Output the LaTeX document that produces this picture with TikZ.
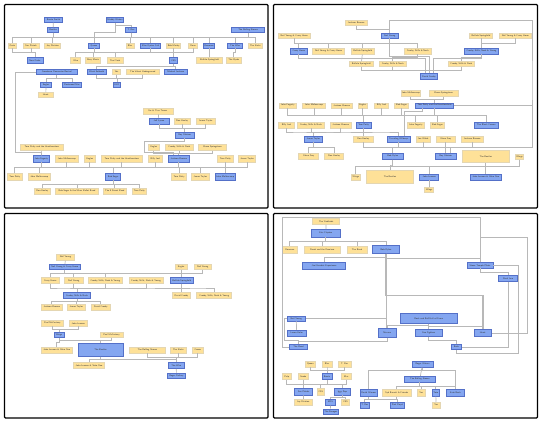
\documentclass[tikz,border=0pt]{standalone}
\usetikzlibrary{calc}
\definecolor{nodeblue}{RGB}{132,166,240}
\definecolor{blueline}{RGB}{84,112,200}
\definecolor{nodeyel}{RGB}{254,225,152}
\definecolor{yelline}{RGB}{228,214,178}
\definecolor{wire}{RGB}{184,184,184}
\tikzset{
  box/.style={inner sep=0, inner xsep=.8, minimum height=5, line width=.5pt,
    font=\fontsize{2.3}{2.6}\selectfont\sffamily, text=black!80},
  blu/.style={box, fill=nodeblue, draw=blueline, minimum width=#1},
  yel/.style={box, fill=nodeyel, draw=yelline, minimum width=#1},
  edge/.style={draw=wire, line width=.7pt},
  elbow/.style={to path={|- ($(\tikztostart)!.5!(\tikztotarget)$) -| (\tikztotarget)}},
  panel/.style={draw=black, line width=1.2pt, rounded corners=1}
}
\begin{document}
\begin{tikzpicture}[x=1pt, y=-1pt]
\fill[white] (0,0) rectangle (542,422);
\useasboundingbox (0,0) rectangle (542,422);
\draw[panel] (4.5,4.5) rectangle (268,208);
\draw[panel] (273.5,4.5) rectangle (537.5,208);
\draw[panel] (4.5,213.5) rectangle (268,418);
\draw[panel] (273.5,213.5) rectangle (537.5,418);

% first panel
\node[blu=17.6] (p1a) at (53.5,19.8){Bessie Smith};
\node[blu=11.4] (p1b) at (53,30){Beatles};
\node[blu=15] (p1c) at (115,19.8){Muddy Waters};
\node[blu=11] (p1d) at (131,30){T. Rex};
\node[blu=33] (p1e) at (248,30){The Rolling Stones};
\node[yel=8.7] (p1f) at (12.3,45.6){Oasis};
\node[yel=16] (p1g) at (31,45.6){Sex Pistols};
\node[yel=16] (p1h) at (52.7,45.6){Joy Division};
\node[blu=11.4] (p1i) at (94,45.6){Queen};
\node[yel=8.3] (p1j) at (130,45.6){Blur};
\node[blu=20] (p1k) at (150.7,45.6){Blue Oyster Cult};
\node[yel=14] (p1l) at (173.7,45.6){Bob Marley};
\node[yel=9] (p1m) at (193,45.6){Devo};
\node[blu=11.4] (p1n) at (209,45.6){Ramones};
\node[blu=15.4] (p1o) at (235,45.6){The Who};
\node[yel=14] (p1p) at (255.3,45.6){The Kinks};
\node[blu=15.7, minimum height=6] (p1q) at (35,60.3){New Order};
\node[yel=10, minimum height=6] (p1r) at (75.7,60.3){Wire};
\node[yel=15, minimum height=6] (p1s) at (93,60.3){Roxy Music};
\node[yel=16.3, minimum height=6] (p1t) at (115,60.3){The Clash};
\node[blu=7.6, minimum height=6] (p1u) at (173.5,60.3){CSS};
\node[yel=25.6, minimum height=6] (p1v) at (209.5,60.3){Buffalo Springfield};
\node[yel=15, minimum height=6] (p1w) at (233.8,60.3){The Byrds};
\node[blu=41] (p1x) at (56.8,72){Creedence Clearwater Revival};
\node[blu=19] (p1y) at (96.8,72){Black Sabbath};
\node[yel=8.4] (p1z) at (116.5,72){Yes};
\node[yel=32.7] (p1aa) at (142.7,72){The Velvet Underground};
\node[blu=23.3] (p1ab) at (175.7,72){Michael Jackson};
\node[blu=11] (p1ac) at (46,84.8){Eagles};
\node[blu=19.4] (p1ad) at (72,84.8){Fleetwood Mac};
\node[blu=7.4] (p1ae) at (117,84.8){ELO};
\node[yel=15] (p1af) at (45.8,95){Heart};
\node[yel=30.3, minimum height=6] (p1ag) at (158,111){Ike \& Tina Turner};
\node[blu=20, minimum height=6] (p1ah) at (159,121.2){Jeff Lynne};
\node[yel=16, minimum height=6] (p1ai) at (182,121.2){Don Henley};
\node[yel=18.7, minimum height=6] (p1aj) at (205.7,121.2){James Taylor};
\node[blu=19.3, minimum height=6] (p1ak) at (184.7,135){Roy Orbison};
\node[yel=42.3, minimum height=6.5] (p1al) at (41.8,147.3){Tom Petty and the Heartbreakers};
\node[yel=11.7, minimum height=6.5] (p1am) at (153.8,147.3){Eagles};
\node[yel=28, minimum height=6.5] (p1an) at (179.3,147.3){Crosby, Stills \& Nash};
\node[yel=28.4, minimum height=6.5] (p1ao) at (212.5,147.3){Bruce Springsteen};
\node[blu=16.7, minimum height=6.5] (p1ap) at (41.3,159){John Fogerty};
\node[yel=22.3, minimum height=6.5] (p1aq) at (66.8,159){John Mellencamp};
\node[yel=10.3, minimum height=6.5] (p1ar) at (89.8,159){Eagles};
\node[yel=41, minimum height=6.5] (p1as) at (121.8,159){Tom Petty and the Heartbreakers};
\node[yel=14, minimum height=6.5] (p1at) at (155.3,159){Billy Joel};
\node[blu=21, minimum height=6.5] (p1au) at (178.8,159){Jackson Browne};
\node[yel=16, minimum height=6.5] (p1av) at (225.3,159){Tom Petty};
\node[yel=17.4, minimum height=6.5] (p1aw) at (247,159){James Taylor};
\node[yel=15, minimum height=6.5] (p1ax) at (14.8,176.7){Tom Petty};
\node[yel=22.7, minimum height=6.5] (p1ay) at (39.3,176.7){John Mellencamp};
\node[blu=15, minimum height=6.5] (p1az) at (113.2,176.7){Bob Seger};
\node[yel=15.4, minimum height=6.5] (p1ba) at (179,176.7){Tom Petty};
\node[yel=17.3, minimum height=6.5] (p1bb) at (200.3,176.7){James Taylor};
\node[blu=19, minimum height=6.5] (p1bc) at (225.2,176.7){John Mellencamp};
\node[yel=16.7, minimum height=5.7] (p1bd) at (42.3,191.2){Don Henley};
\node[yel=42.6, minimum height=5.7] (p1be) at (77,191.2){Bob Seger \& the Silver Bullet Band};
\node[yel=23, minimum height=5.7] (p1bf) at (114.8,191.2){The E Street Band};
\node[yel=14, minimum height=5.7] (p1bg) at (139.3,191.2){Tom Petty};
\draw[edge] (p1a) -- (p1b);
\draw[edge] (p1b.south) to[elbow] (p1f.north);
\draw[edge] (p1b.south) to[elbow] (p1g.north);
\draw[edge] (p1b.south) to[elbow] (p1h.north);
\draw[edge] (p1b.south) to[elbow] (p1i.north);
\draw[edge] (p1c.south) to[elbow] (p1d.north);
\draw[edge] (p1c.south) to[elbow] (p1i.north);
\draw[edge] (p1d.south) to[elbow] (p1i.north);
\draw[edge] (p1d.south) to[elbow] (p1j.north);
\draw[edge] (p1d.south) to[elbow] (p1k.north);
\draw[edge] (p1d.south) to[elbow] (p1l.north);
\draw[edge] (p1d.south) to[elbow] (p1m.north);
\draw[edge] (p1d.south) to[elbow] (p1n.north);
\draw[edge] (p1d.south) to[elbow] (p1o.north);
\draw[edge] (p1e.south) to[elbow] (p1o.north);
\draw[edge] (p1e.south) to[elbow] (p1p.north);
\draw[edge] (p1f.south) to[elbow] (p1q.north);
\draw[edge] (p1g.south) to[elbow] (p1q.north);
\draw[edge] (p1i.south) to[elbow] (p1r.north);
\draw[edge] (p1i.south) to[elbow] (p1s.north);
\draw[edge] (p1i.south) to[elbow] (p1t.north);
\draw[edge] (p1i.south) to[elbow] (p1u.north);
\draw[edge] (p1k.south) to[elbow] (p1u.north);
\draw[edge] (p1l.south) to[elbow] (p1u.north);
\draw[edge] (p1m.south) to[elbow] (p1u.north);
\draw[edge] (p1n.south) to[elbow] (p1v.north);
\draw[edge] (p1o.south) to[elbow] (p1w.north);
\draw[edge] (p1u.south) to[elbow] (p1y.north);
\draw[edge] (p1u.south) to[elbow] (p1ab.north);
\draw[edge] (p1x.south) to[elbow] (p1ac.north);
\draw[edge] (p1x.south) to[elbow] (p1ad.north);
\draw[edge] (p1y.south) to[elbow] (p1ae.north);
\draw[edge] (p1z.south) to[elbow] (p1ae.north);
\draw[edge] (p1aa.south) to[elbow] (p1ae.north);
\draw[edge] (p1ac) -- (p1af);
\draw[edge] (p1x.west) -| (15,152) -| (p1ap.north);
\draw[edge] (p1ag) -- (p1ah);
\draw[edge] (p1ah.south) to[elbow] (p1ak.north);
\draw[edge] (p1ai.south) to[elbow] (p1ak.north);
\draw[edge] (p1aj.south) to[elbow] (p1ak.north);
\draw[edge] (p1ak.south) -- ++(0,3) -| (144,152.5) -| ([xshift=-5]p1au.north);
\draw[edge] (p1al) -- (p1ap);
\draw[edge] (p1am.south) to[elbow] (p1au.north);
\draw[edge] (p1an.south) to[elbow] (p1au.north);
\draw[edge] (p1ao.south) to[elbow] (p1au.north);
\draw[edge] (p1ap.south) to[elbow] (p1ax.north);
\draw[edge] (p1ap.south) to[elbow] (p1ay.north);
\draw[edge] (p1ap.south) to[elbow] (p1az.north);
\draw[edge] (p1aq.south) to[elbow] (p1az.north);
\draw[edge] (p1ar.south) to[elbow] (p1az.north);
\draw[edge] (p1as.south) to[elbow] (p1az.north);
\draw[edge] (p1at.south) to[elbow] (p1az.north);
\draw[edge] (p1au.south) to[elbow] (p1az.north);
\draw[edge] (p1au.south) to[elbow] (p1ba.north);
\draw[edge] (p1au.south) to[elbow] (p1bb.north);
\draw[edge] (p1au.south) to[elbow] (p1bc.north);
\draw[edge] (p1av.south) to[elbow] (p1bc.north);
\draw[edge] (p1aw.south) to[elbow] (p1bc.north);
\draw[edge] (p1az.south) to[elbow] (p1bd.north);
\draw[edge] (p1az.south) to[elbow] (p1be.north);
\draw[edge] (p1az.south) to[elbow] (p1bf.north);
\draw[edge] (p1az.south) to[elbow] (p1bg.north);

% second panel
\node[yel=21.7, minimum height=5.7] (p2a) at (356.2,22.8){Jackson Browne};
\node[yel=32.3] (p2b) at (294.2,35.7){Neil Young \& Crazy Horse};
\node[blu=16.7] (p2c) at (389.7,35.7){Neil Young};
\node[yel=23.4] (p2d) at (481,35.7){Buffalo Springfield};
\node[yel=32] (p2e) at (515.3,35.7){Neil Young \& Crazy Horse};
\node[blu=16.7, minimum height=5.7] (p2f) at (298.7,51.2){Crazy Horse};
\node[yel=31.6, minimum height=5.7] (p2g) at (328.5,51.2){Neil Young \& Crazy Horse};
\node[yel=23.3, minimum height=5.7] (p2h) at (362.7,51.2){Buffalo Springfield};
\node[yel=26.7, minimum height=5.7] (p2i) at (417.7,51.2){Crosby, Stills \& Nash};
\node[blu=34.4, minimum height=5.7] (p2j) at (481.5,51.2){Crosby, Stills, Nash \& Young};
\node[yel=23.7] (p2k) at (361.2,64){Buffalo Springfield};
\node[yel=26.7] (p2l) at (392.7,64){Crosby, Stills \& Nash};
\node[yel=26.7] (p2m) at (461.3,64){Crosby, Stills \& Nash};
\node[blu=17.4, minimum height=6] (p2n) at (429,76.7){David Crosby};
\node[yel=19, minimum height=6] (p2o) at (410.8,93.3){John Mellencamp};
\node[yel=28.7, minimum height=6] (p2p) at (443.7,93.3){Bruce Springsteen};
\node[yel=16.7] (p2q) at (287.7,105.3){John Fogerty};
\node[yel=22.6] (p2r) at (314,105.3){John Mellencamp};
\node[yel=20.7] (p2s) at (341.7,105.3){Jackson Browne};
\node[yel=9] (p2t) at (362.5,105.3){Eagles};
\node[yel=14.4] (p2u) at (381.5,105.3){Billy Joel};
\node[yel=14.4] (p2v) at (401.5,105.3){Bob Seger};
\node[blu=38.4] (p2w) at (434.5,105.3){Tom Petty and the Heartbreakers};
\node[yel=15.6, minimum height=6] (p2x) at (286.5,125){Billy Joel};
\node[yel=26.6, minimum height=6] (p2y) at (311,125){Crosby, Stills \& Nash};
\node[yel=20.7, minimum height=6] (p2z) at (340.7,125){Jackson Browne};
\node[blu=14.7, minimum height=6] (p2aa) at (363.7,125){Tom Petty};
\node[yel=17.7, minimum height=6] (p2ab) at (415.8,125){John Fogerty};
\node[yel=14.4, minimum height=6] (p2ac) at (437.5,125){Bob Seger};
\node[blu=23.7, minimum height=6] (p2ad) at (486.2,125){The Black Crowes};
\node[blu=17.7, minimum height=6] (p2ae) at (313.2,139){James Taylor};
\node[yel=20.7, minimum height=6] (p2af) at (363.3,139){Don Henley};
\node[blu=23.3, minimum height=6] (p2ag) at (398.7,139){Traveling Wilburys};
\node[yel=14.3, minimum height=6] (p2ah) at (423.2,139){Joe Walsh};
\node[yel=19, minimum height=6] (p2ai) at (445.8,139){Glenn Frey};
\node[yel=22.7, minimum height=6] (p2aj) at (472.3,139){Jackson Browne};
\node[yel=20, minimum height=6] (p2ak) at (308.7,156.3){Glenn Frey};
\node[yel=19.4, minimum height=6] (p2al) at (334,156.3){Don Henley};
\node[blu=21.7, minimum height=6] (p2am) at (392.8,156.3){Bob Dylan};
\node[blu=20.7, minimum height=6] (p2an) at (445.7,156.3){Roy Orbison};
\node[yel=47.3, minimum height=12] (p2ao) at (485.7,156.7){The Beatles};
\node[yel=8.4, minimum height=5.5] (p2ap) at (519.5,156.7){Wings};
\node[yel=9, minimum height=6] (p2aq) at (355.8,177){Wings};
\node[yel=47.4, minimum height=12.6] (p2ar) at (390,177){The Beatles};
\node[blu=19, minimum height=6] (p2as) at (429.2,177){John Lennon};
\node[blu=31, minimum height=6] (p2at) at (485.8,177){John Lennon \& Yoko Ono};
\node[yel=9, minimum height=5.4] (p2au) at (429.2,190){Wings};
\draw[edge] (p2a.south) to[elbow] (p2c.north);
\draw[edge] (p2b.south) to[elbow] (p2f.north);
\draw[edge] (p2c.south) to[elbow] (p2f.north);
\draw[edge] (p2c.south) to[elbow] (p2g.north);
\draw[edge] (p2c.south) to[elbow] (p2h.north);
\draw[edge] (p2c.south) to[elbow] (p2i.north);
\draw[edge] (p2c.south) to[elbow] (p2n.north);
\draw[edge] (p2c.north) |- (532,20) -- (532,100) |- (p2w.east);
\draw[edge] (532,100) -- (532,147) -| ([xshift=5]p2an.north);
\draw[edge] (p2d.south) to[elbow] (p2j.north);
\draw[edge] (p2e.south) to[elbow] (p2j.north);
\draw[edge] (p2h) -- (p2k);
\draw[edge] (p2i.south) to[elbow] (p2l.north);
\draw[edge] (p2j.south) to[elbow] (p2m.north);
\draw[edge] (p2f.south) -- ++(0,4) -| ([xshift=-4]p2n.north);
\draw[edge] (p2j.south) -- ++(0,4) -| ([xshift=4]p2n.north);
\draw[edge] (p2k.south) to[elbow] (p2n.north);
\draw[edge] (p2l.south) to[elbow] (p2n.north);
\draw[edge] (p2m.south) to[elbow] (p2n.north);
\draw[edge] (p2o.south) to[elbow] (p2w.north);
\draw[edge] (p2p.south) to[elbow] (p2w.north);
\draw[edge] (p2q.south) to[elbow] (p2aa.north);
\draw[edge] (p2r.south) to[elbow] (p2aa.north);
\draw[edge] (p2s.south) to[elbow] (p2aa.north);
\draw[edge] (p2t.south) to[elbow] (p2aa.north);
\draw[edge] (p2u.south) to[elbow] (p2aa.north);
\draw[edge] (p2v.south) to[elbow] (p2aa.north);
\draw[edge] (p2w.south) to[elbow] (p2aa.north);
\draw[edge] (p2w.south) to[elbow] (p2ab.north);
\draw[edge] (p2w.south) to[elbow] (p2ac.north);
\draw[edge] (p2w.south) to[elbow] (p2ad.north);
\draw[edge] ([xshift=-12]p2w.south) -- ++(0,3) -| ([xshift=6]p2ag.north);
\draw[edge] (p2x.south) to[elbow] (p2ae.north);
\draw[edge] (p2y.south) to[elbow] (p2ae.north);
\draw[edge] (p2z.south) to[elbow] (p2ae.north);
\draw[edge] (p2aa.south) to[elbow] (p2ae.north);
\draw[edge] (p2aa.south) to[elbow] (p2af.north);
\draw[edge] (p2aa.south) to[elbow] (p2ag.north);
\draw[edge] (p2ae.south) to[elbow] (p2ak.north);
\draw[edge] (p2ae.south) to[elbow] (p2al.north);
\draw[edge] (p2ag.south) to[elbow] (p2an.north);
\draw[edge] (p2ah.south) to[elbow] (p2an.north);
\draw[edge] (p2ai.south) to[elbow] (p2an.north);
\draw[edge] (p2aj.south) to[elbow] (p2an.north);
\draw[edge] (p2ag.south) to[elbow] (p2am.north);
\draw[edge] (p2af.south) to[elbow] (p2am.north);
\draw[edge] (p2am.south) to[elbow] (p2aq.north);
\draw[edge] (p2am.south) to[elbow] (p2ar.north);
\draw[edge] (p2am.south) to[elbow] (p2as.north);
\draw[edge] (p2am.south) to[elbow] (p2at.north);
\draw[edge] (p2ao.south) to[elbow] (p2at.north);
\draw[edge] (p2ap.south) to[elbow] (p2at.north);
\draw[edge] (p2as) -- (p2au);

% third panel
\node[yel=18.4, minimum height=6] (p3a) at (65.5,257.3){Neil Young};
\node[blu=31.7] (p3b) at (64.8,267){Neil Young \& Crazy Horse};
\node[yel=12.3] (p3c) at (181.2,267){Eagles};
\node[yel=17.7] (p3d) at (202.8,267){Neil Young};
\node[yel=17.7, minimum height=5.6] (p3e) at (50.2,280.5){Crazy Horse};
\node[yel=18.3, minimum height=5.6] (p3f) at (73.8,280.5){Neil Young};
\node[yel=34, minimum height=5.6] (p3g) at (105.3,280.5){Crosby, Stills, Nash \& Young};
\node[yel=34, minimum height=5.6] (p3h) at (146,280.5){Crosby, Stills, Nash \& Young};
\node[blu=23.3, minimum height=5.6] (p3i) at (181.7,280.5){Buffalo Springfield};
\node[blu=27.4, minimum height=5.6] (p3j) at (77,295.5){Crosby, Stills \& Nash};
\node[yel=18.4, minimum height=5.6] (p3k) at (181.5,295.5){David Crosby};
\node[yel=35, minimum height=5.6] (p3l) at (214.2,295.5){Crosby, Stills, Nash \& Young};
\node[yel=21, minimum height=5.7] (p3m) at (51.8,307.2){Jackson Browne};
\node[yel=17.7, minimum height=5.7] (p3n) at (76.2,307.2){James Taylor};
\node[yel=18.7, minimum height=5.7] (p3o) at (100.7,307.2){David Crosby};
\node[yel=22, minimum height=5.3] (p3p) at (52.3,323.3){Paul McCartney};
\node[yel=18.3, minimum height=5.3] (p3q) at (78.2,323.3){John Lennon};
\node[blu=10, minimum height=5.4] (p3r) at (59,335){Wings};
\node[yel=23, minimum height=5.4] (p3s) at (111.5,335){Paul McCartney};
\node[yel=31, minimum height=6] (p3t) at (56.8,350.2){John Lennon \& Yoko Ono};
\node[blu=45, minimum height=13] (p3u) at (100.5,349.8){The Beatles};
\node[yel=36.7, minimum height=6] (p3v) at (147.3,350.2){The Rolling Stones};
\node[yel=16.7, minimum height=6] (p3w) at (178.3,350.2){The Kinks};
\node[yel=11, minimum height=6] (p3x) at (197.8,350.2){Cream};
\node[yel=31.4, minimum height=6.3] (p3y) at (89,365.5){John Lennon \& Yoko Ono};
\node[blu=15.7, minimum height=6.3] (p3z) at (176.2,365.5){The Who};
\node[blu=18.4, minimum height=5.7] (p3aa) at (176.5,375.8){Roger Daltrey};
\draw[edge] (p3a) -- (p3b);
\draw[edge] (p3b.south) to[elbow] (p3e.north);
\draw[edge] (p3b.south) to[elbow] (p3f.north);
\draw[edge] (p3b.south) to[elbow] (p3g.north);
\draw[edge] (p3b.south) to[elbow] (p3i.north);
\draw[edge] (p3c.south) to[elbow] (p3i.north);
\draw[edge] (p3d.south) to[elbow] (p3i.north);
\draw[edge] (p3e.south) to[elbow] (p3j.north);
\draw[edge] (p3f.south) to[elbow] (p3j.north);
\draw[edge] (p3g.south) to[elbow] (p3j.north);
\draw[edge] (p3h.south) to[elbow] (p3j.north);
\draw[edge] (p3i.south) to[elbow] (p3j.north);
\draw[edge] (p3i.south) to[elbow] (p3k.north);
\draw[edge] (p3i.south) to[elbow] (p3l.north);
\draw[edge] (p3j.south) to[elbow] (p3m.north);
\draw[edge] (p3j.south) to[elbow] (p3n.north);
\draw[edge] (p3j.south) to[elbow] (p3o.north);
\draw[edge] (p3p.south) to[elbow] (p3r.north);
\draw[edge] (p3q.south) to[elbow] (p3r.north);
\draw[edge] (p3r.south) to[elbow] (p3t.north);
\draw[edge] (p3r.south) to[elbow] (p3u.north);
\draw[edge] (p3s.south) to[elbow] (p3u.north);
\draw[edge] (p3u.south) to[elbow] (p3y.north);
\draw[edge] (p3u.south) to[elbow] (p3z.north);
\draw[edge] (p3v.south) to[elbow] (p3z.north);
\draw[edge] (p3w.south) to[elbow] (p3z.north);
\draw[edge] (p3x.south) to[elbow] (p3z.north);
\draw[edge] (p3z) -- (p3aa);

% fourth panel
\node[yel=27, minimum height=6.7] (p4a) at (326.2,221.3){The Yardbirds};
\node[blu=29, minimum height=7.7] (p4b) at (325.8,233.2){Eric Clapton};
\node[yel=15.7, minimum height=7] (p4c) at (289.8,249.5){Donovan};
\node[yel=36, minimum height=7] (p4d) at (322.3,249.5){Derek and the Dominos};
\node[yel=20, minimum height=7] (p4e) at (357,249.5){The Band};
\node[blu=26.6, minimum height=8] (p4f) at (386,249.5){Bob Dylan};
\node[blu=42.6, minimum height=7.3] (p4g) at (324,265.7){Jimi Hendrix Experience};
\node[blu=26, minimum height=5.5] (p4h) at (480,265.5){Stone Temple Pilots};
\node[blu=19, minimum height=6] (p4i) at (508.2,278.5){Pearl Jam};
\node[blu=18.3] (p4j) at (296.2,318.5){Neil Young};
\node[blu=56.7, minimum height=10] (p4k) at (428.7,318.3){Rock and Roll Hall of Fame};
\node[blu=19.3, minimum height=6] (p4l) at (296.7,333){Levon Helm};
\node[blu=18.3, minimum height=9] (p4m) at (387.2,332.8){Nirvana};
\node[blu=26.7, minimum height=7.4] (p4n) at (428.7,333){Foo Fighters};
\node[blu=17, minimum height=7.4] (p4o) at (482.8,333){Heart};
\node[blu=18.4] (p4p) at (298.5,347){The Band};
\node[blu=10] (p4q) at (456.3,347){Bush};
\node[yel=10, minimum height=5.7] (p4r) at (310.3,364.2){Queen};
\node[yel=10, minimum height=5.7] (p4s) at (327,364.2){Blur};
\node[yel=13, minimum height=5.7] (p4t) at (344.5,364.2){T. Rex};
\node[yel=8.3, minimum height=6] (p4u) at (286.8,376.7){Pulp};
\node[yel=10.7, minimum height=6] (p4v) at (303.3,376.7){Suede};
\node[blu=10, minimum height=6] (p4w) at (327,376.7){Bowie};
\node[yel=9.7, minimum height=6] (p4x) at (346.2,376.7){Blur};
\node[blu=18, minimum height=7] (p4y) at (303.7,391.7){Sex Pistols};
\node[yel=7.7, minimum height=7] (p4z) at (320.8,391.7){CSS};
\node[blu=16, minimum height=7] (p4aa) at (342.3,391.7){Iggy Pop};
\node[yel=17.3, minimum height=6.3] (p4ab) at (303.3,402.2){Joy Division};
\node[blu=10, minimum height=6.3] (p4ac) at (330.3,402.2){MC5};
\node[yel=8.4, minimum height=6.3] (p4ad) at (345.5,402.2){CSS};
\node[blu=14.3, minimum height=5.7] (p4ae) at (330.8,411.8){The Stooges};
\node[blu=21, minimum height=6] (p4af) at (422.5,364.3){Roger Waters};
\node[blu=31, minimum height=5.7] (p4ag) at (419.8,379.2){The Rolling Stones};
\node[blu=16.7, minimum height=6.6] (p4ah) at (368.7,393){David Gilmour};
\node[yel=29.3, minimum height=6.6] (p4ai) at (396.7,393){Syd Barrett \& Friends};
\node[yel=8.3, minimum height=6.6] (p4aj) at (421.2,393){Yes};
\node[blu=7.3, minimum height=6.6] (p4ak) at (435.7,393){Toto};
\node[blu=18.7, minimum height=6.6] (p4al) at (455.3,393){Kate Bush};
\node[blu=9, minimum height=6] (p4am) at (364.8,405){T. Rex};
\node[blu=14, minimum height=6] (p4an) at (397.3,405){Pink Floyd};
\node[yel=8.3, minimum height=6] (p4ao) at (436.2,405){Yes};
\draw[edge] (p4a) -- (p4b);
\draw[edge] (p4b.south) to[elbow] (p4c.north);
\draw[edge] (p4b.south) to[elbow] (p4d.north);
\draw[edge] (p4b.south) to[elbow] (p4e.north);
\draw[edge] (p4b.south) to[elbow] (p4f.north);
\draw[edge] (p4f.south) to[elbow] (p4g.north);
\draw[edge] (p4f.south) to[elbow] (p4h.north);
\draw[edge, line width=1.4pt] (p4f.south) -- ++(0,42) -| (p4o.north);
\draw[edge] (p4f.south) |- (p4j.east);
\draw[edge] (p4f.south) -- (p4f.south |- p4m.north);
\draw[edge] (p4h.north) |- (282,217) |- (p4p.west);
\draw[edge] (p4h.north) |- (527,237) |- (p4o.east);
\draw[edge] (p4h.south) to[elbow] (p4i.north);
\draw[edge] (p4i.south) |- (p4q.east);
\draw[edge] (p4h.east) -| (518.7,353) -| (p4q.south);
\draw[edge] (p4k.south) to[elbow] (p4m.north);
\draw[edge] (p4k.south) to[elbow] (p4n.north);
\draw[edge] (p4k.south) to[elbow] (p4o.north);
\draw[edge] (p4j) -- (p4l);
\draw[edge] (p4j.west) -| (284,340) -| (p4p.north);
\draw[edge] (p4m.south) to[elbow] (p4p.north);
\draw[edge] (p4n.south) to[elbow] (p4q.north);
\draw[edge] (p4r.south) to[elbow] (p4w.north);
\draw[edge] (p4s.south) to[elbow] (p4w.north);
\draw[edge] (p4t.south) to[elbow] (p4w.north);
\draw[edge] (p4u.south) to[elbow] (p4y.north);
\draw[edge] (p4v.south) to[elbow] (p4y.north);
\draw[edge] (p4w.south) to[elbow] (p4y.north);
\draw[edge] (p4w.south) to[elbow] (p4z.north);
\draw[edge] (p4w.south) to[elbow] (p4aa.north);
\draw[edge] (p4x.south) to[elbow] (p4aa.north);
\draw[edge] (p4y) -- (p4ab);
\draw[edge] (p4aa.south) to[elbow] (p4ac.north);
\draw[edge] (p4aa.south) to[elbow] (p4ad.north);
\draw[edge] (p4ac) -- (p4ae);
\draw[edge] (p4af) -- (p4ag);
\draw[edge] (p4af.south) -- ++(0,3) -| (p4ah.north);
\draw[edge] (p4af.south) -- ++(0,3) -| (p4al.north);
\draw[edge] (p4ag.south) to[elbow] (p4ai.north);
\draw[edge] (p4ag.south) to[elbow] (p4aj.north);
\draw[edge] (p4ag.south) to[elbow] (p4ak.north);
\draw[edge] (p4ag.south) to[elbow] (p4al.north);
\draw[edge] (p4ah.south) to[elbow] (p4am.north);
\draw[edge] (p4ah.south) to[elbow] (p4an.north);
\draw[edge] (p4ai.south) to[elbow] (p4an.north);
\draw[edge] (p4ak) -- (p4ao);
\end{tikzpicture}
\end{document}
